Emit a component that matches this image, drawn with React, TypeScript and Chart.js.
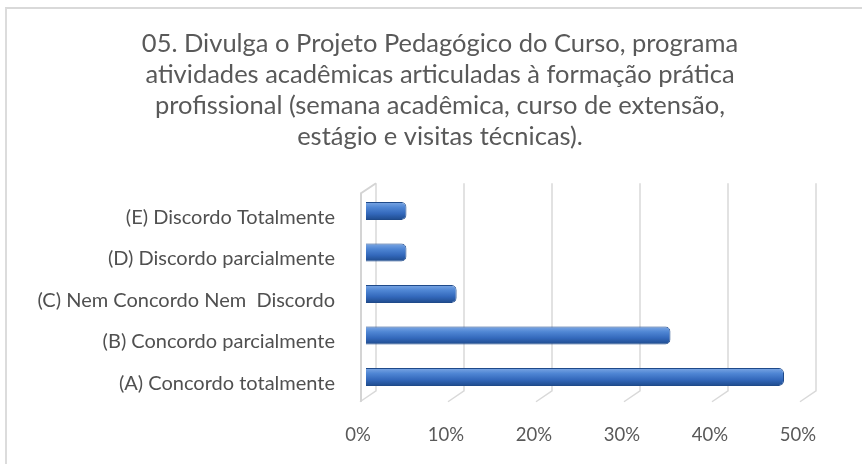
import React, { useEffect, useRef } from "react";
import { Chart, registerables } from "chart.js";

Chart.register(...registerables);

const titleLines = [
  "05. Divulga o Projeto Pedagógico do Curso, programa",
  "atividades acadêmicas articuladas à formação prática",
  "profissional (semana acadêmica, curso de extensão,",
  "estágio e visitas técnicas).",
];

const categories = [
  "(E) Discordo Totalmente",
  "(D) Discordo parcialmente",
  "(C) Nem Concordo Nem  Discordo",
  "(B) Concordo parcialmente",
  "(A) Concordo totalmente",
];

const percentValues = [4.6, 4.6, 10.3, 34.6, 47.5];

const tickValues = [0, 10, 20, 30, 40, 50];

const TEXT = "#595959";
const LABEL = "#505050";
const GRID = "#d9d9d9";
const FONT = "Lato";

const gridPlugin = {
  id: "grid3d",
  beforeDatasetsDraw(chart: any) {
    const { ctx, chartArea, scales } = chart;
    const xs = scales.x;
    const top = chartArea.top;
    const bottom = chartArea.bottom;
    ctx.save();
    ctx.strokeStyle = GRID;
    ctx.lineWidth = 1.5;
    tickValues.forEach((v) => {
      const px = xs.getPixelForValue(v);
      ctx.beginPath();
      ctx.moveTo(px + 10, top - 7);
      ctx.lineTo(px + 10, bottom - 7);
      ctx.lineTo(px - 6, bottom + 4);
      ctx.stroke();
    });
    const p0 = xs.getPixelForValue(0);
    ctx.strokeStyle = "#d4d4d4";
    ctx.lineWidth = 2;
    ctx.beginPath();
    ctx.moveTo(p0 + 10, top - 7);
    ctx.lineTo(p0 - 5, top + 3);
    ctx.lineTo(p0 - 5, bottom + 4);
    ctx.stroke();
    ctx.restore();
  },
};

function barFill(c: any) {
  const chart = c.chart;
  if (!chart.chartArea || c.type !== "data") return "#3a6fc2";
  const ys = chart.scales.y;
  const yc = ys.getPixelForValue(c.dataIndex);
  const h = 9;
  const g = chart.ctx.createLinearGradient(0, yc - h, 0, yc + h);
  g.addColorStop(0, "#7ca7e4");
  g.addColorStop(0.3, "#4f86d4");
  g.addColorStop(0.65, "#3368bb");
  g.addColorStop(1, "#1e4a8b");
  return g;
}

export default function App() {
  const ref = useRef<HTMLCanvasElement | null>(null);

  useEffect(() => {
    if (!ref.current) return;
    const chart = new Chart(ref.current, {
      type: "bar",
      data: {
        labels: categories,
        datasets: [
          {
            data: percentValues,
            backgroundColor: barFill as any,
            borderColor: "#1f4a8a",
            borderWidth: 1,
            borderRadius: 5,
            borderSkipped: "start",
            barPercentage: 0.43,
            categoryPercentage: 1,
          },
        ],
      },
      options: {
        indexAxis: "y",
        animation: false,
        responsive: false,
        layout: { padding: { left: 18, right: 0, top: 0, bottom: 0 } },
        plugins: {
          legend: { display: false },
          tooltip: { enabled: false },
          title: {
            display: true,
            text: titleLines,
            color: TEXT,
            font: { family: FONT, size: 25.5, weight: "normal", lineHeight: 1.2157 },
            padding: { top: 28.5, bottom: 37.75 },
          },
        },
        scales: {
          x: {
            type: "linear",
            min: 0,
            max: 50,
            grid: { display: false, drawTicks: false },
            border: { display: false },
            ticks: {
              stepSize: 10,
              color: TEXT,
              font: { family: FONT, size: 18.5 },
              padding: 26,
              labelOffset: -8,
              callback: (v: any) => v + "%",
            },
            afterFit: (s: any) => {
              s.height = 66.25;
            },
          },
          y: {
            type: "category",
            grid: { display: false, drawTicks: false },
            border: { display: false },
            ticks: {
              color: LABEL,
              font: { family: FONT, size: 20 },
              padding: 31,
              labelOffset: 6.5,
            },
            afterFit: (s: any) => {
              s.width = 348;
            },
          },
          y2: {
            type: "linear",
            position: "right",
            display: true,
            grid: { display: false, drawTicks: false },
            border: { display: false },
            ticks: { display: false },
            afterFit: (s: any) => {
              s.width = 56;
            },
          },
        },
      },
      plugins: [gridPlugin],
    });
    return () => chart.destroy();
  }, []);

  return (
    <div
      style={{
        position: "fixed",
        left: 0,
        top: 0,
        width: 862,
        height: 464,
        overflow: "hidden",
        background: "#ffffff",
      }}
    >
      <div
        style={{
          position: "absolute",
          left: 5,
          top: 7,
          width: 1000,
          height: 1000,
          borderTop: "2px solid #d9d9d9",
          borderLeft: "2px solid #dcdcdc",
          pointerEvents: "none",
        }}
      />
      <canvas
        ref={ref}
        width={862}
        height={464}
        style={{ position: "absolute", left: 0, top: 0, width: 862, height: 464 }}
      />
    </div>
  );
}
